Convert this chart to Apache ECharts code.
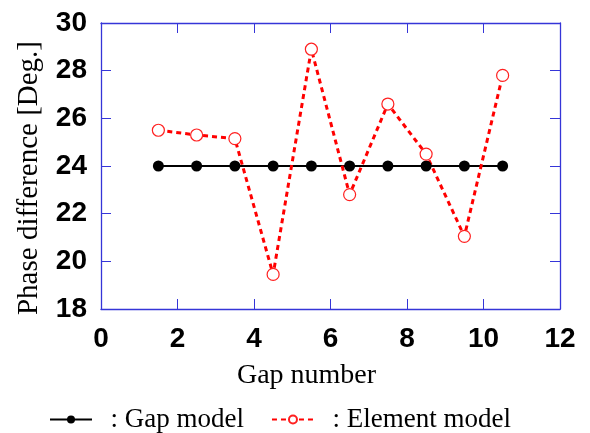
<!DOCTYPE html>
<html><head><meta charset="utf-8">
<script src="https://cdn.jsdelivr.net/npm/echarts@6/dist/echarts.min.js"></script>
<style>html,body{margin:0;padding:0;background:#fff}#c{width:590px;height:433px}</style>
</head><body><div id="c"></div>
<script>
const gapNumbers = [1.5, 2.5, 3.5, 4.5, 5.5, 6.5, 7.5, 8.5, 9.5, 10.5];
const gapModel = [24, 24, 24, 24, 24, 24, 24, 24, 24, 24];
const elementModel = [25.5, 25.3, 25.15, 19.45, 28.9, 22.8, 26.6, 24.5, 21.05, 27.8];
const seriesNames = [': Gap model', ': Element model'];

const axisBlue = '#3535d8';
const tickFont = {fontFamily: '"Liberation Sans", Arial, sans-serif', fontWeight: 'bold', fontSize: 28, color: '#000'};
const serif = '"Liberation Serif", "Times New Roman", serif';

const chart = echarts.init(document.getElementById('c'), null, {renderer: 'canvas'});
const baseAxis = {
  axisLine: {show: true, onZero: false, lineStyle: {color: axisBlue, width: 1.3}},
  axisTick: {show: true, inside: true, length: 10, lineStyle: {color: axisBlue, width: 1}},
  splitLine: {show: false}
};
chart.setOption({
  animation: false,
  grid: {left: 101, top: 23, right: 30, bottom: 124, containLabel: false},
  xAxis: [
    Object.assign({}, baseAxis, {type: 'value', min: 0, max: 12, interval: 2, position: 'bottom',
      axisLabel: Object.assign({margin: 16}, tickFont),
      name: 'Gap number', nameLocation: 'middle', nameGap: 53,
      nameTextStyle: {fontFamily: serif, fontSize: 28, color: '#000', padding: [0, 48, 0, 0]}}),
    Object.assign({}, baseAxis, {type: 'value', min: 0, max: 12, interval: 2, position: 'top',
      axisLabel: {show: false}})
  ],
  yAxis: [
    Object.assign({}, baseAxis, {type: 'value', min: 18, max: 30, interval: 2, position: 'left',
      axisLabel: Object.assign({margin: 14}, tickFont),
      name: 'Phase difference [Deg.]', nameLocation: 'middle', nameGap: 57,
      nameTextStyle: {fontFamily: serif, fontSize: 29, color: '#000', padding: [0, 24, 0, 0]}}),
    Object.assign({}, baseAxis, {type: 'value', min: 18, max: 30, interval: 2, position: 'right',
      axisLabel: {show: false}})
  ],
  legend: {
    left: 44, top: 401, itemWidth: 42, itemHeight: 10, itemGap: 27,
    data: seriesNames,
    formatter: n => '  ' + n,
    textStyle: {fontFamily: serif, fontSize: 27, color: '#000'}
  },
  series: [
    {name: seriesNames[0], type: 'line', data: gapNumbers.map((x, i) => [x, gapModel[i]]),
      symbol: 'circle', symbolSize: 11, itemStyle: {color: '#000'},
      lineStyle: {color: '#000', width: 2}},
    {name: seriesNames[1], type: 'line', data: gapNumbers.map((x, i) => [x, elementModel[i]]),
      symbol: 'circle', symbolSize: 12,
      itemStyle: {color: '#fff', borderColor: '#ff2020', borderWidth: 1.2},
      lineStyle: {color: '#ff0000', width: 3, type: [5, 4]}, z: 3}
  ]
});
</script></body></html>
